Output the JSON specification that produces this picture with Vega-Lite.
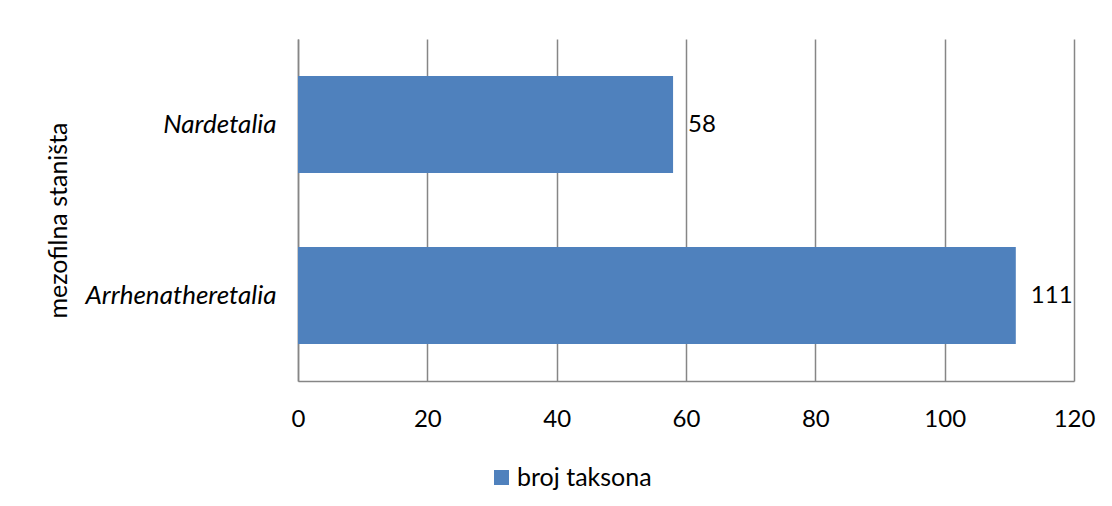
{
  "$schema": "https://vega.github.io/schema/vega-lite/v6.json",
  "width": 776,
  "height": 342,
  "autosize": {"type": "none"},
  "padding": {"left": 298, "top": 39, "right": 38, "bottom": 125},
  "background": "white",
  "config": {"view": {"stroke": null}, "font": "Lato"},
  "data": {
    "values": [
      {"habitat": "Nardetalia", "broj": 58, "serija": "broj taksona"},
      {"habitat": "Arrhenatheretalia", "broj": 111, "serija": "broj taksona"}
    ]
  },
  "encoding": {
    "y": {
      "field": "habitat",
      "type": "nominal",
      "sort": ["Nardetalia", "Arrhenatheretalia"],
      "scale": {"paddingInner": 0.433, "paddingOuter": 0.2165},
      "axis": {
        "title": "mezofilna staništa",
        "labelFontStyle": "italic",
        "labelFontSize": 26,
        "labelPadding": 22,
        "labelLimit": 400,
        "labelColor": "black",
        "ticks": false,
        "domainColor": "#868686",
        "domainWidth": 1.5,
        "titleFontSize": 25,
        "titleFontWeight": "normal",
        "titleColor": "black",
        "titleX": -240,
        "titleY": 181,
        "titleAngle": -90,
        "titleAlign": "center",
        "titleBaseline": "middle"
      }
    },
    "x": {
      "field": "broj",
      "type": "quantitative",
      "scale": {"domain": [0, 120]},
      "axis": {
        "values": [0, 20, 40, 60, 80, 100, 120],
        "title": null,
        "grid": true,
        "gridColor": "#868686",
        "gridWidth": 1.5,
        "ticks": false,
        "labelFlush": false,
        "labelPadding": 26,
        "labelFontSize": 24,
        "labelColor": "black",
        "domainColor": "#868686",
        "domainWidth": 1.5
      }
    }
  },
  "layer": [
    {
      "mark": {"type": "bar"},
      "encoding": {
        "color": {
          "field": "serija",
          "type": "nominal",
          "scale": {"range": ["#4F81BD"]},
          "legend": {
            "title": null,
            "orient": "none",
            "legendX": 191,
            "legendY": 426,
            "padding": 0,
            "symbolType": "square",
            "symbolSize": 225,
            "symbolStrokeWidth": 0,
            "labelFontSize": 25,
            "labelColor": "black",
            "labelOffset": 3
          }
        }
      }
    },
    {
      "mark": {"type": "text", "align": "left", "baseline": "middle", "dx": 15, "fontSize": 24, "color": "black"},
      "encoding": {"text": {"field": "broj"}}
    }
  ]
}
